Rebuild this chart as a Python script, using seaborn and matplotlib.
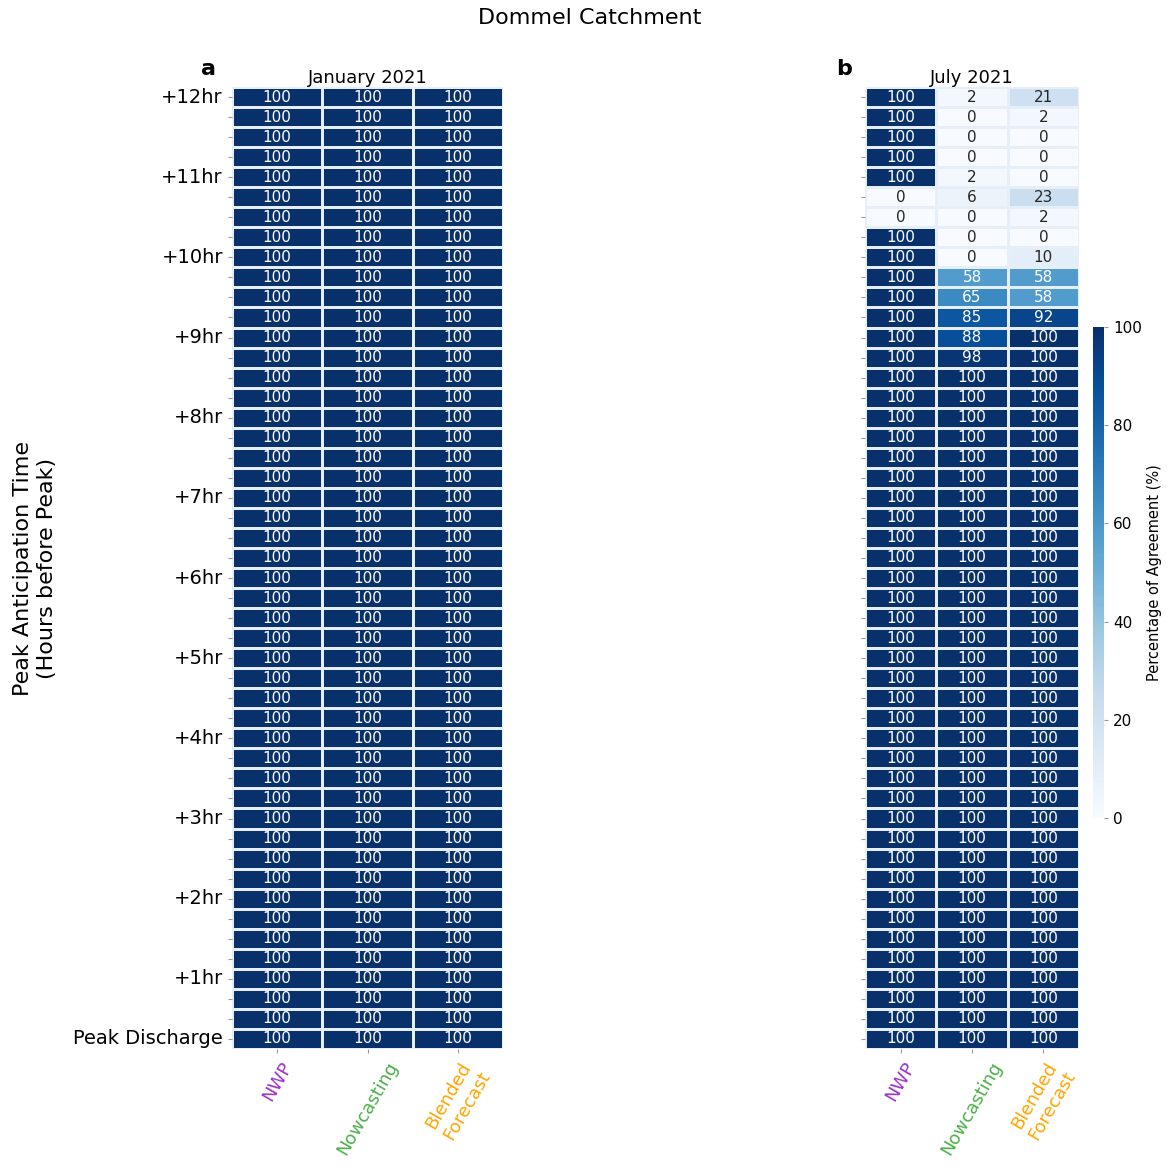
import numpy as np
import pandas as pd
import matplotlib
matplotlib.use("Agg")
import matplotlib.pyplot as plt
import seaborn as sns

# Forecast products (columns) and their label colours
products = ["NWP", "Nowcasting", "Blended\nForecast"]
product_colors = ["darkorchid", "#4daf4a", "orange"]

# Lead-time rows: +12hr down to peak, 15-minute steps (48 rows)
n_rows = 48
row_labels = [""] * n_rows
for h in range(12, 0, -1):
    row_labels[(12 - h) * 4] = f"+{h}hr"
row_labels[n_rows - 1] = "Peak Discharge"

# January 2021: full agreement at every lead time
jan_nwp = [100] * 48
jan_nowcasting = [100] * 48
jan_blended = [100] * 48

# July 2021
jul_nwp = [100, 100, 100, 100, 100, 0, 0, 100, 100, 100, 100, 100, 100, 100] + [100] * 34
jul_nowcasting = [2, 0, 0, 0, 2, 6, 0, 0, 0, 58, 65, 85, 88, 98] + [100] * 34
jul_blended = [21, 2, 0, 0, 0, 23, 2, 0, 10, 58, 58, 92, 100, 100] + [100] * 34

jan = pd.DataFrame({products[0]: jan_nwp, products[1]: jan_nowcasting, products[2]: jan_blended})
jul = pd.DataFrame({products[0]: jul_nwp, products[1]: jul_nowcasting, products[2]: jul_blended})

W, H = 1172, 1174
fig = plt.figure(figsize=(W / 100, H / 100), dpi=100)

def box(x0, y0, x1, y1):
    return [x0 / W, 1 - y1 / H, (x1 - x0) / W, (y1 - y0) / H]

ax_a = fig.add_axes(box(232, 87, 503, 1049))
ax_b = fig.add_axes(box(865, 87, 1079, 1049))
cax = fig.add_axes(box(1093, 327, 1104, 818))

common = dict(cmap="Blues", vmin=0, vmax=100, annot=True, fmt="d",
              annot_kws={"fontsize": 11}, linewidths=1.0, linecolor="#e6eef8")

sns.heatmap(jan, ax=ax_a, cbar=False, yticklabels=row_labels, **common)
sns.heatmap(jul, ax=ax_b, cbar_ax=cax, yticklabels=[""] * n_rows,
            cbar_kws={"label": "Percentage of Agreement (%)"}, **common)

for ax, title, letter in [(ax_a, "January 2021", "a"), (ax_b, "July 2021", "b")]:
    ax.set_title(title, fontsize=13, pad=3)
    ax.text(-0.06, 1.008, letter, transform=ax.transAxes, fontsize=16,
            fontweight="bold", ha="right", va="bottom")
    ax.set_xticklabels(products, rotation=60, ha="center", va="top", fontsize=13)
    for lbl, c in zip(ax.get_xticklabels(), product_colors):
        lbl.set_color(c)
    ax.tick_params(axis="y", length=3, labelsize=14, rotation=0, color="#999999")
    ax.tick_params(axis="x", length=3, color="#999999")

ax_a.set_ylabel("Peak Anticipation Time\n(Hours before Peak)", fontsize=16, labelpad=12)
ax_b.set_ylabel("")

cax.tick_params(labelsize=11, length=3, color="#999999")
cax.set_yticks([0, 20, 40, 60, 80, 100])
cax.yaxis.label.set_size(10.5)

fig.text(590 / W, 1 - 18 / H, "Dommel Catchment", ha="center", va="center", fontsize=16)

fig.savefig("out.png", dpi=100)
